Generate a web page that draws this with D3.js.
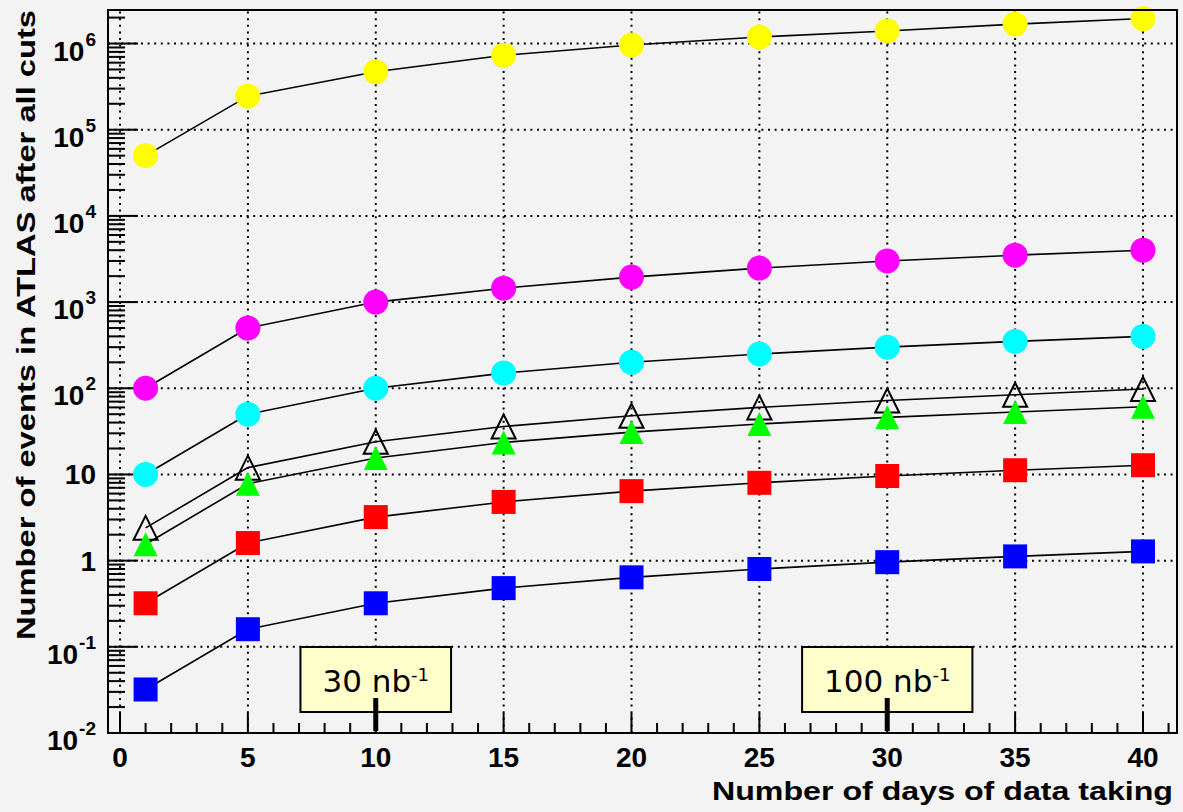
<!DOCTYPE html>
<html>
<head>
<meta charset="utf-8">
<script src="https://cdn.jsdelivr.net/npm/d3@7"></script>
<style>
  html, body { margin: 0; padding: 0; background: #f3f3f3; }
  svg { display: block; }
</style>
</head>
<body>
<svg id="chart" width="1183" height="812"></svg>
<script>
// Days of data taking at which the expected event counts are shown
const days = [1, 5, 10, 15, 20, 25, 30, 35, 40];

// Expected number of events after all cuts, one array per channel
const yellowCircles  = [5.0e4, 2.45e5, 4.7e5, 7.3e5, 9.6e5, 1.19e6, 1.4e6, 1.68e6, 1.95e6];
const magentaCircles = [100, 500, 1000, 1450, 1950, 2480, 3000, 3500, 4000];
const cyanCircles    = [10, 50, 100, 150, 200, 250, 300, 350, 400];
const openTriangles  = [2.4, 12, 24, 36, 48, 60, 72, 84, 98];
const greenTriangles = [1.55, 7.8, 15.5, 23.5, 31, 38.5, 46, 53, 61];
const redSquares     = [0.32, 1.6, 3.2, 4.8, 6.4, 8.0, 9.6, 11.2, 12.8];
const blueSquares    = [0.032, 0.16, 0.32, 0.48, 0.64, 0.8, 0.96, 1.12, 1.28];

// Axis tick values and labels
const xMajorTicks = [0, 5, 10, 15, 20, 25, 30, 35, 40];
const yDecadeExponents = [-2, -1, 0, 1, 2, 3, 4, 5, 6];

// Integrated luminosity milestones
const lumiDays   = [10, 30];
const lumiValues = ["30", "100"];

const series = [
  { values: yellowCircles,  shape: "circle",   fill: "#ffff00" },
  { values: magentaCircles, shape: "circle",   fill: "#ff00ff" },
  { values: cyanCircles,    shape: "circle",   fill: "#00ffff" },
  { values: openTriangles,  shape: "triangle", fill: "none", stroke: "#000" },
  { values: greenTriangles, shape: "triangle", fill: "#00ff00" },
  { values: redSquares,     shape: "square",   fill: "#ff0000" },
  { values: blueSquares,    shape: "square",   fill: "#0000ff" }
];

const frame = { left: 108, right: 1177, top: 10, bottom: 733 };

const svg = d3.select("#chart");

const x = d3.scaleLinear().domain([-0.47, 41.33]).range([frame.left, frame.right]);
const y = d3.scaleLog().domain([0.01, 2.45e6]).range([frame.bottom, frame.top]);

const fontBold = "'Liberation Sans', Arial, Helvetica, sans-serif";

// Dotted grid
const grid = svg.append("g")
  .attr("stroke", "#000")
  .attr("stroke-width", 2)
  .attr("stroke-dasharray", "2 4.6");
grid.selectAll("line.v").data(xMajorTicks).join("line")
  .attr("x1", d => x(d)).attr("x2", d => x(d))
  .attr("y1", frame.bottom).attr("y2", frame.top);
grid.selectAll("line.h").data(yDecadeExponents.slice(1)).join("line")
  .attr("x1", frame.left).attr("x2", frame.right)
  .attr("y1", d => y(Math.pow(10, d))).attr("y2", d => y(Math.pow(10, d)));

// Tick marks (drawn inside the frame)
const ticks = svg.append("g").attr("stroke", "#000").attr("stroke-width", 2);
const xMinor = d3.range(0, 42);
ticks.selectAll("line.xm").data(xMinor).join("line")
  .attr("x1", d => x(d)).attr("x2", d => x(d))
  .attr("y1", frame.bottom)
  .attr("y2", d => frame.bottom - (d % 5 === 0 ? 20 : 10));

const yMinor = [];
yDecadeExponents.forEach(e => {
  for (let m = 2; m <= 9; m++) {
    const v = m * Math.pow(10, e);
    if (v < y.domain()[1]) yMinor.push(v);
  }
});
ticks.selectAll("line.ym").data(yMinor).join("line")
  .attr("x1", frame.left).attr("x2", frame.left + 17)
  .attr("y1", d => y(d)).attr("y2", d => y(d));
ticks.selectAll("line.yM").data(yDecadeExponents).join("line")
  .attr("x1", frame.left).attr("x2", frame.left + 30)
  .attr("y1", d => y(Math.pow(10, d))).attr("y2", d => y(Math.pow(10, d)));

// X tick labels
svg.append("g")
  .attr("font-family", fontBold).attr("font-weight", "bold").attr("font-size", 28)
  .attr("text-anchor", "middle").attr("fill", "#000")
  .selectAll("text").data(xMajorTicks).join("text")
  .attr("x", d => x(d)).attr("y", 767)
  .text(d => d);

// Y tick labels: 10^n with superscript exponent, except 1 and 10
const yLab = svg.append("g")
  .attr("font-family", fontBold).attr("font-weight", "bold")
  .attr("text-anchor", "end").attr("fill", "#000");
yDecadeExponents.forEach(e => {
  const yy = y(Math.pow(10, e));
  if (e === 0 || e === 1) {
    yLab.append("text").attr("x", 96).attr("y", yy + 10)
      .attr("font-size", 28).text(e === 0 ? "1" : "10");
  } else {
    const t = yLab.append("text").attr("x", 96).attr("y", yy + 17).attr("font-size", 28);
    t.append("tspan").text("10");
    t.append("tspan").attr("font-size", 19).attr("dx", 1).attr("dy", -15).text(String(e));
  }
});

// Connecting lines
const line = d3.line().x((d, i) => x(days[i])).y(d => y(d));
svg.append("g").selectAll("path").data(series).join("path")
  .attr("d", s => line(s.values))
  .attr("fill", "none").attr("stroke", "#000").attr("stroke-width", 1.6);

// Markers
function markerPath(shape, cx, cy) {
  if (shape === "square") {
    const h = 12;
    return `M${cx - h},${cy - h}H${cx + h}V${cy + h}H${cx - h}Z`;
  }
  if (shape === "triangle") {
    const h = 12;
    return `M${cx - h},${cy + h}L${cx + h},${cy + h}L${cx},${cy - h}Z`;
  }
  const r = 12.5;
  return `M${cx - r},${cy}A${r},${r} 0 1,0 ${cx + r},${cy}A${r},${r} 0 1,0 ${cx - r},${cy}Z`;
}
series.forEach(s => {
  svg.append("g").selectAll("path").data(s.values).join("path")
    .attr("d", (d, i) => markerPath(s.shape, x(days[i]), y(d)))
    .attr("fill", s.fill)
    .attr("stroke", s.stroke || "none")
    .attr("stroke-width", s.stroke ? 2 : 0);
});

// Luminosity boxes with a thick marker tick on the axis
lumiDays.forEach((day, i) => {
  const cx = x(day);
  const g = svg.append("g");
  const rect = g.append("rect");
  const t = g.append("text")
    .attr("font-family", "'DejaVu Sans', sans-serif").attr("font-size", 31)
    .attr("fill", "#000").attr("x", cx).attr("y", 692).attr("text-anchor", "middle");
  t.append("tspan").text(lumiValues[i] + " nb");
  t.append("tspan").attr("font-size", 18).attr("dy", -11).text("-1");
  const bb = t.node().getBBox();
  const pad = 22;
  rect.attr("x", cx - bb.width / 2 - pad).attr("width", bb.width + 2 * pad)
    .attr("y", 647).attr("height", 65)
    .attr("fill", "#ffffcc").attr("stroke", "#000").attr("stroke-width", 2);
  g.append("line")
    .attr("x1", cx).attr("x2", cx).attr("y1", 698).attr("y2", 731)
    .attr("stroke", "#000").attr("stroke-width", 5);
});

// Frame
svg.append("rect")
  .attr("x", frame.left).attr("y", frame.top)
  .attr("width", frame.right - frame.left).attr("height", frame.bottom - frame.top)
  .attr("fill", "none").attr("stroke", "#000").attr("stroke-width", 2);

// Axis titles
svg.append("text")
  .attr("font-family", fontBold).attr("font-weight", "bold").attr("font-size", 26)
  .attr("x", 712).attr("y", 800)
  .attr("textLength", 461).attr("lengthAdjust", "spacingAndGlyphs")
  .text("Number of days of data taking");

svg.append("text")
  .attr("font-family", fontBold).attr("font-weight", "bold").attr("font-size", 26)
  .attr("transform", "translate(35,640) rotate(-90)")
  .attr("x", 0).attr("y", 0)
  .attr("textLength", 630).attr("lengthAdjust", "spacingAndGlyphs")
  .text("Number of events in ATLAS after all cuts");
</script>
</body>
</html>
